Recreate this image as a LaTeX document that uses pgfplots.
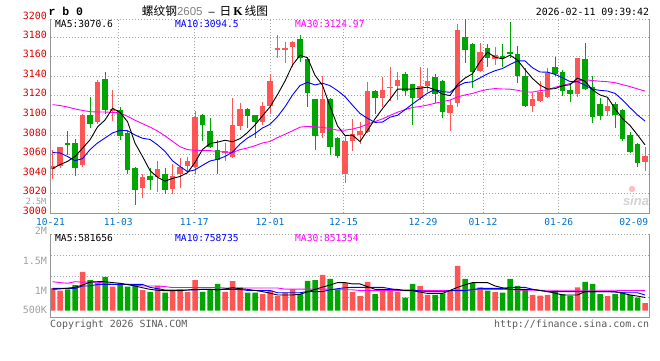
\documentclass[border=0pt]{standalone}
\usepackage{pgfplots}
\usepackage{pgfplotstable}
\pgfplotsset{compat=1.18}
\usepackage{fontspec}
\setmainfont{DejaVu Sans Mono}
\newfontfamily\dvm{DejaVu Sans Mono}
\newfontfamily\lmono{Liberation Mono}
\newfontfamily\lsans{Liberation Sans}
\newfontfamily\lserif{Liberation Serif}
\newfontfamily\cjk{Noto Sans CJK SC}
\definecolor{cred}{RGB}{255,85,85}
\definecolor{cgreen}{RGB}{0,166,0}
\definecolor{tred}{RGB}{221,0,0}
\definecolor{dblue}{RGB}{0,112,200}
\definecolor{lgray}{RGB}{160,160,160}
\definecolor{gridc}{RGB}{165,165,165}
\definecolor{framec}{RGB}{150,150,150}
\definecolor{mablue}{RGB}{0,0,255}
\definecolor{mamag}{RGB}{255,0,255}
\definecolor{ftgray}{RGB}{90,90,90}

\pgfplotstableread{
i o h l c up ma5 ma10 ma30 v vma5 vma10 vma30
0 3045 3065 3035 3048 1 3045.6 3062 3110.9 1.00 0.95 0.99 1.29
1 3048 3068 3046 3068 1 3049.7 3061.6 3110 0.89 0.97 0.99 1.25
2 3072 3084 3060 3070 0 3053 3058 3108.5 0.95 1.00 0.99 1.22
3 3072 3076 3038 3046 0 3058 3053.7 3106.5 1.14 1.04 0.99 1.29
4 3049 3101 3047 3100 1 3066.4 3055.8 3105 1.73 1.14 1.10 1.27
5 3100 3119 3087 3091 0 3075 3065 3103.7 1.36 1.27 1.10 1.27
6 3093 3136 3091 3134 1 3088.2 3071.8 3103.4 1.24 1.29 1.17 1.27
7 3137 3144 3101 3105 0 3095.2 3076.9 3103.4 1.50 1.29 1.17 1.22
8 3104 3126 3094 3106 1 3107.2 3082 3103 1.07 1.25 1.17 1.17
9 3105 3108 3075 3079 0 3103 3084.7 3102.5 1.22 1.22 1.17 1.17
10 3082 3084 3040 3044 0 3093.6 3084.3 3099 1.07 1.16 1.17 1.17
11 3046 3047 3008 3024 0 3071.6 3079.9 3095 1.14 1.10 1.17 1.15
12 3026 3040 3016 3037 1 3058 3076.6 3091.5 0.92 1.02 1.17 1.10
13 3038 3046 3024 3034 0 3043.6 3075.4 3088 0.84 0.95 1.04 1.10
14 3037 3053 3022 3045 1 3036.8 3069.9 3084 1.10 0.91 0.98 1.10
15 3040 3046 3020 3024 0 3032.8 3063.2 3079 0.80 0.89 0.92 1.07
16 3025 3050 3020 3038 1 3035.6 3053.6 3073.5 0.89 0.89 0.92 1.03
17 3040 3056 3026 3047 1 3037.6 3047.8 3068 0.95 0.89 0.92 1.03
18 3048 3057 3043 3053 1 3041.4 3042.5 3065 0.84 0.92 0.92 1.03
19 3047 3104 3040 3098 1 3052 3044.4 3064.3 1.36 0.95 0.92 1.03
20 3100 3101 3074 3090 0 3065.2 3049 3064.3 0.84 0.95 0.95 1.03
21 3084 3097 3067 3068 0 3071.2 3053.4 3064 0.95 0.95 0.95 1.03
22 3065 3075 3040 3054 0 3072.6 3055.1 3063 1.19 0.92 0.95 1.03
23 3062 3072 3053 3063 1 3074.6 3058 3062.6 0.84 0.97 0.95 1.01
24 3057 3118 3056 3090 1 3073 3062.5 3062 1.32 1.02 0.95 1.01
25 3089 3113 3085 3106 1 3076.2 3070.7 3065 1.04 0.98 0.95 1.01
26 3106 3107 3087 3099 0 3082.4 3076.8 3066.7 0.80 0.95 0.90 1.01
27 3100 3100 3077 3093 0 3090.2 3081.4 3069 0.80 0.90 0.90 1.01
28 3093 3114 3090 3110 1 3099.6 3087.1 3071.8 0.74 0.85 0.90 1.01
29 3110 3142 3101 3135 1 3108.6 3090.8 3073.3 0.89 0.78 0.90 1.01
30 3167 3182 3158 3169 1 3121.2 3098.7 3077.3 0.65 0.70 0.80 1.01
31 3167 3175 3153 3168 1 3135 3108.7 3080.7 0.80 0.70 0.80 0.96
32 3170 3176 3149 3175 1 3151.4 3120.8 3084.2 0.95 0.70 0.80 0.96
33 3178 3182 3154 3159 0 3161.2 3130.4 3087.9 0.74 0.73 0.80 0.96
34 3158 3158 3109 3123 0 3158.8 3133.7 3088.7 1.33 0.84 0.85 0.96
35 3117 3117 3065 3079 0 3140.8 3131 3088.3 1.36 0.95 0.85 0.96
36 3082 3140 3077 3117 1 3130.6 3132.8 3087.7 1.59 1.05 0.85 0.96
37 3117 3118 3060 3068 0 3109.2 3130.3 3086.5 1.41 1.14 0.93 0.96
38 3077 3078 3056 3059 0 3089.2 3125.2 3084.9 0.95 1.25 0.98 0.93
39 3040 3079 3031 3074 1 3079.4 3119.1 3084.8 1.24 1.25 1.02 0.93
40 3074 3096 3064 3081 1 3079.8 3110.3 3086 0.83 1.19 1.04 0.93
41 3080 3093 3071 3084 1 3073.2 3101.9 3088 0.65 1.19 1.04 0.90
42 3083 3134 3082 3125 1 3084.6 3096.9 3090.9 1.28 1.07 1.04 0.90
43 3125 3126 3101 3118 0 3096.4 3092.8 3093.7 0.74 0.95 1.04 0.90
44 3118 3139 3108 3126 1 3106.8 3093.1 3096.4 0.92 0.95 1.04 0.90
45 3128 3149 3115 3129 1 3116.4 3098.1 3099.9 0.92 0.95 0.98 0.90
46 3130 3144 3116 3136 1 3126.8 3100 3103.2 0.83 0.95 0.92 0.90
47 3142 3144 3120 3125 0 3126.8 3105.7 3105.8 0.58 0.89 0.92 0.90
48 3132 3132 3090 3118 0 3126.8 3111.6 3108 1.19 0.89 0.92 0.90
49 3118 3149 3116 3130 1 3127.6 3117.2 3109 1.10 0.83 0.88 0.90
50 3130 3148 3124 3135 1 3128.8 3122.6 3110.5 0.70 0.77 0.85 0.90
51 3139 3142 3113 3122 0 3126 3126.4 3112.3 0.70 0.77 0.85 0.90
52 3135 3136 3097 3103 0 3121.6 3124.2 3114 0.77 0.77 0.85 0.90
53 3102 3116 3084 3111 1 3120.2 3123.5 3115.6 0.89 0.90 0.89 0.90
54 3113 3193 3109 3187 1 3131.6 3129.6 3118.8 1.99 1.04 0.89 0.92
55 3180 3198 3153 3167 0 3138 3133.4 3120.8 1.41 1.15 0.89 0.92
56 3173 3174 3128 3144 0 3142.4 3134.2 3122.3 1.24 1.25 0.94 0.92
57 3145 3174 3144 3165 1 3154.8 3138.2 3124.7 1.04 1.25 0.99 0.95
58 3169 3173 3149 3159 0 3164.4 3142.3 3126.4 0.89 1.25 0.99 0.95
59 3158 3170 3151 3162 1 3159.4 3145.5 3127.3 0.83 1.10 0.99 0.95
60 3161 3173 3149 3158 0 3157.6 3147.8 3126.9 0.80 1.02 0.99 0.95
61 3165 3195 3158 3163 0 3161.4 3151.9 3126.7 1.41 0.95 1.04 0.95
62 3163 3171 3133 3140 0 3156.4 3155.6 3125.6 1.10 0.95 1.04 0.91
63 3140 3148 3108 3110 0 3146.6 3155.5 3123.9 0.95 0.95 1.04 0.91
64 3110 3123 3103 3117 1 3137.6 3148.5 3123.7 0.70 0.95 0.95 0.91
65 3115 3135 3114 3124 1 3130.8 3144.2 3125.2 0.67 0.90 0.90 0.91
66 3119 3148 3118 3143 1 3126.8 3144.1 3126.1 0.70 0.85 0.85 0.91
67 3149 3160 3140 3142 0 3127.2 3141.8 3128.6 0.89 0.78 0.85 0.91
68 3144 3146 3120 3125 0 3130.2 3138.4 3130.8 0.74 0.70 0.85 0.91
69 3126 3133 3114 3122 0 3131.2 3134.4 3132.4 0.67 0.70 0.85 0.91
70 3122 3159 3119 3158 1 3138 3134.4 3134.9 1.04 0.70 0.85 0.91
71 3157 3174 3126 3127 0 3134.8 3130.8 3136.4 1.28 0.85 0.85 0.91
72 3129 3140 3092 3098 0 3126 3126.6 3135.5 1.19 0.85 0.85 0.91
73 3112 3118 3095 3099 0 3120.8 3125.5 3134.8 0.74 0.85 0.85 0.91
74 3104 3118 3099 3110 1 3118.4 3124.8 3134.3 0.65 0.85 0.85 0.91
75 3112 3114 3087 3100 0 3106.8 3122.4 3133.3 0.74 0.85 0.83 0.91
76 3105 3106 3074 3076 0 3096.6 3115.7 3131.3 0.82 0.78 0.80 0.90
77 3080 3083 3062 3063 0 3089.6 3107.8 3129.3 0.70 0.70 0.80 0.90
78 3071 3072 3047 3051 0 3080 3100.4 3127 0.58 0.65 0.80 0.90
79 3052 3068 3043 3059 1 3069.8 3094.1 3124.7 0.34 0.59 0.70 0.90
}\kd

\newcommand{\monofont}[1]{\dvm\fontsize{#1}{#1}\selectfont}

\begin{document}
\begin{tikzpicture}[x=1pt,y=1pt]
\path[use as bounding box] (0,0) rectangle (660,-360);

% ---------------- main (price) axis ----------------
\begin{axis}[
  at={(50.5pt,-213.3pt)}, anchor=south west,
  scale only axis, width=599pt, height=194pt,
  xmin=-0.27, xmax=79.6, ymin=3000, ymax=3198,
  axis line style={draw=none},
  major tick length=0pt, minor tick length=0pt,
  xtick={-0.27,8.77,18.9,29,38.8,49.4,57.4,67.5,77.5},
  xticklabels={10-21,11-03,11-17,12-01,12-15,12-29,01-12,01-26,02-09},
  xticklabel style={font=\monofont{9.6}, text=dblue, anchor=center, yshift=-8.4pt},
  minor xtick={8.77,18.9,29,38.8,49.4,57.4,67.5},
  xminorgrids=true, xmajorgrids=false,
  ytick={3000,3020,3040,3060,3080,3100,3120,3140,3160,3180},
  yticklabels={3000,3020,3040,3060,3080,3100,3120,3140,3160,3180},
  extra y ticks={3198}, extra y tick labels={3200},
  extra y tick style={yticklabel style={yshift=1.2pt}},
  yticklabel style={font=\monofont{10}, text=tred, yshift=2.4pt},
  ymajorgrids=true,
  grid style={gridc, line width=0.8pt, dash pattern=on 1pt off 2pt},
  major grid style={gridc, line width=0.8pt, dash pattern=on 1pt off 2pt},
  minor grid style={gridc, line width=0.8pt, dash pattern=on 1pt off 2pt},
]
% wicks
\addplot[draw=none, mark=none, restrict expr to domain={\thisrow{up}}{1:1},
  error bars/.cd, y dir=both, y explicit, error mark=none,
  error bar style={line width=1pt, draw=cred}]
  table[x=i, y expr={(\thisrow{h}+\thisrow{l})/2}, y error expr={(\thisrow{h}-\thisrow{l})/2}] {\kd};
\addplot[draw=none, mark=none, restrict expr to domain={\thisrow{up}}{0:0},
  error bars/.cd, y dir=both, y explicit, error mark=none,
  error bar style={line width=1pt, draw=cgreen}]
  table[x=i, y expr={(\thisrow{h}+\thisrow{l})/2}, y error expr={(\thisrow{h}-\thisrow{l})/2}] {\kd};
% bodies
\addplot[draw=none, mark=none, restrict expr to domain={\thisrow{up}}{1:1},
  error bars/.cd, y dir=both, y explicit, error mark=none,
  error bar style={line width=5.5pt, draw=cred}]
  table[x=i, y expr={(\thisrow{o}+\thisrow{c})/2}, y error expr={max(abs(\thisrow{c}-\thisrow{o})/2,0.8)}] {\kd};
\addplot[draw=none, mark=none, restrict expr to domain={\thisrow{up}}{0:0},
  error bars/.cd, y dir=both, y explicit, error mark=none,
  error bar style={line width=5.5pt, draw=cgreen}]
  table[x=i, y expr={(\thisrow{o}+\thisrow{c})/2}, y error expr={max(abs(\thisrow{c}-\thisrow{o})/2,0.8)}] {\kd};
% moving averages
\addplot[mamag, line width=0.9pt, mark=none] table[x=i, y=ma30] {\kd};
\addplot[mablue, line width=0.9pt, mark=none] table[x=i, y=ma10] {\kd};
\addplot[black, line width=0.9pt, mark=none] table[x=i, y=ma5] {\kd};
\end{axis}

% ---------------- volume axis ----------------
\begin{axis}[
  at={(50.5pt,-317.7pt)}, anchor=south west,
  scale only axis, width=599pt, height=83.4pt,
  xmin=-0.27, xmax=79.6, ymin=-0.311, ymax=3.396,
  axis line style={draw=none},
  major tick length=0pt, minor tick length=0pt,
  xtick=\empty,
  minor xtick={8.77,18.9,29,38.8,49.4,57.4,67.5},
  xminorgrids=true,
  ytick={0.031,0.889,2.222}, yticklabels={500K,1M,1.5M},
  extra y ticks={3.396}, extra y tick labels={2M},
  extra y tick style={yticklabel style={yshift=3.3pt}},
  yticklabel style={font=\monofont{10}, text=lgray},
  minor ytick={0.614,1.543,2.467,3.396}, yminorgrids=true, ymajorgrids=false,
  minor grid style={gridc, line width=0.8pt, dash pattern=on 1pt off 2pt},
]
\addplot[ybar, bar width=5.5pt, bar shift=0pt, fill=cred, draw=none,
  restrict expr to domain={\thisrow{up}}{1:1}] table[x=i, y=v] {\kd};
\addplot[ybar, bar width=5.5pt, bar shift=0pt, fill=cgreen, draw=none,
  restrict expr to domain={\thisrow{up}}{0:0}] table[x=i, y=v] {\kd};
\addplot[mamag, line width=0.9pt, mark=none] table[x=i, y=vma30] {\kd};
\addplot[mablue, line width=0.9pt, mark=none] table[x=i, y=vma10] {\kd};
\addplot[black, line width=0.9pt, mark=none] table[x=i, y=vma5] {\kd};
\end{axis}

% frames
\draw[framec, line width=1.2pt] (50.5,-19.3) -- (50.5,-213.3) -- (649.5,-213.3) -- (649.5,-19.3);
\draw[framec, line width=1.2pt] (50.5,-234.3) -- (50.5,-317.7) -- (649.5,-317.7) -- (649.5,-234.3);

% texts
\node[anchor=west, inner sep=0pt] at (48.3,-11.7) {\lmono\bfseries\fontsize{11.5}{12}\selectfont r b 0};
\node[anchor=west, inner sep=0pt] at (141.7,-10.7) {\cjk\fontsize{11.7}{12}\selectfont 螺纹钢\textcolor{gray}{\lsans\fontsize{11.5}{12}\selectfont 2605}\hspace{6pt}{\lsans\fontsize{11}{12}\selectfont –}\hspace{5pt}日\hspace{2pt}{\lserif\bfseries\fontsize{12}{12}\selectfont K}\hspace{2pt}线图};
\node[anchor=east, inner sep=0pt] at (649.3,-12.3) {\monofont{9.9}2026-02-11 09:39:42};
\node[anchor=west, inner sep=0pt] at (55,-23.7) {\monofont{9.6}MA5:3070.6};
\node[anchor=west, inner sep=0pt, text=mablue] at (175,-23.7) {\monofont{9.6}MA10:3094.5};
\node[anchor=west, inner sep=0pt, text=mamag] at (295,-23.7) {\monofont{9.6}MA30:3124.97};
\node[anchor=west, inner sep=0pt] at (55,-238.3) {\monofont{9.6}MA5:581656};
\node[anchor=west, inner sep=0pt, text=mablue] at (175,-238.3) {\monofont{9.6}MA10:758735};
\node[anchor=west, inner sep=0pt, text=mamag] at (295,-238.3) {\monofont{9.6}MA30:851354};
\node[anchor=east, inner sep=0pt, text=lgray] at (46.5,-201) {\monofont{8.5}2.5M};
\node[anchor=west, inner sep=0pt, text=ftgray] at (50,-324.5) {\monofont{9.9}Copyright 2026 SINA.COM};
\node[anchor=east, inner sep=0pt, text=ftgray] at (649.3,-324.5) {\monofont{9.9}http://finance.sina.com.cn};
% watermark
\fill[red!25] (632,-189) circle (3.2);
\node[anchor=center, inner sep=0pt, text=gray!35] at (636,-201) {\lsans\bfseries\itshape\fontsize{13}{13}\selectfont sina};
\end{tikzpicture}
\end{document}
